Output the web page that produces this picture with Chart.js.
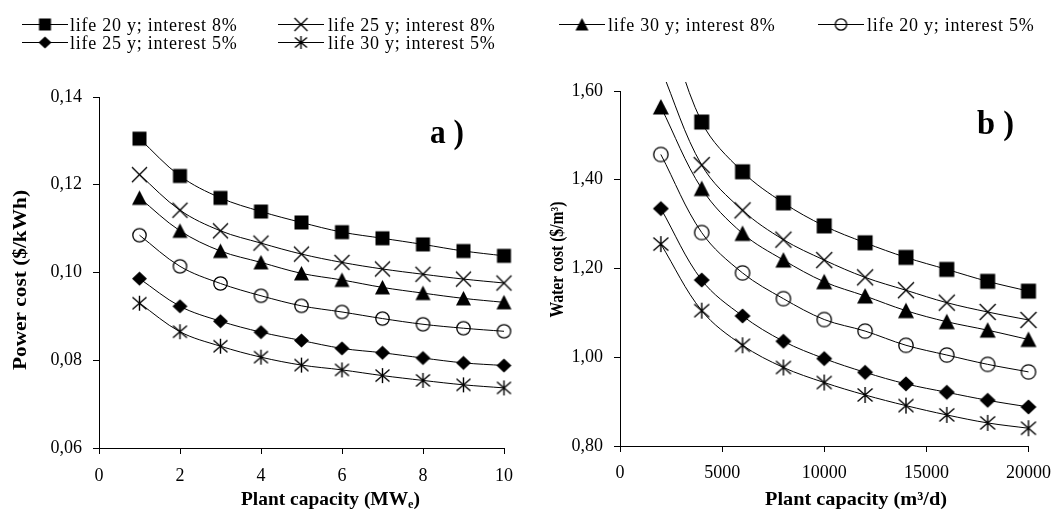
<!DOCTYPE html>
<html><head><meta charset="utf-8">
<script src="https://cdn.jsdelivr.net/npm/chart.js@4.4.0/dist/chart.umd.min.js"></script>
<style>
html,body{margin:0;padding:0;background:#fff;}
#wrap{position:relative;width:1061px;height:511px;overflow:hidden;background:#fff;}
canvas.c{position:absolute;top:0;}
.lg{position:absolute;font-family:"Liberation Serif",serif;font-size:18px;line-height:18px;letter-spacing:0.75px;color:#000;white-space:nowrap;}
canvas.lm{position:absolute;}
</style></head>
<body><div id="wrap">
<canvas id="cL" class="c" width="540" height="511" style="left:0;width:540px;height:511px"></canvas>
<canvas id="cR" class="c" width="521" height="511" style="left:540px;width:521px;height:511px"></canvas>
</div>
<script>
// ---------- data ----------
const seriesLabels = ['life 20 y; interest 8%','life 25 y; interest 8%','life 30 y; interest 8%','life 20 y; interest 5%','life 25 y; interest 5%','life 30 y; interest 5%'];
const seriesMarkers = ['square','cross','triangle','circle','diamond','star'];

const capacityMW = [1,2,3,4,5,6,7,8,9,10];
const power20y8 = [0.1305,0.1220,0.1170,0.1139,0.1114,0.1092,0.1078,0.1064,0.1049,0.1038];
const power25y8 = [0.1223,0.1142,0.1095,0.1067,0.1042,0.1023,0.1008,0.0996,0.0985,0.0976];
const power30y8 = [0.1170,0.1095,0.1049,0.1023,0.0998,0.0983,0.0966,0.0953,0.0941,0.0932];
const power20y5 = [0.1085,0.1014,0.0975,0.0947,0.0924,0.0910,0.0895,0.0882,0.0873,0.0866];
const power25y5 = [0.0986,0.0923,0.0889,0.0864,0.0845,0.0827,0.0817,0.0805,0.0794,0.0788];
const power30y5 = [0.0930,0.0865,0.0832,0.0807,0.0789,0.0778,0.0765,0.0754,0.0744,0.0737];

const capacityM3 = [2000,4000,6000,8000,10000,12000,14000,16000,18000,20000];
const water20y8 = [1.800,1.530,1.418,1.348,1.296,1.258,1.225,1.198,1.171,1.149];
const water25y8 = [1.650,1.433,1.331,1.265,1.219,1.180,1.151,1.123,1.102,1.084];
const water30y8 = [1.564,1.380,1.279,1.219,1.170,1.138,1.105,1.080,1.061,1.040];
const water20y5 = [1.457,1.281,1.190,1.132,1.085,1.059,1.027,1.005,0.984,0.967];
const water25y5 = [1.335,1.174,1.093,1.036,0.997,0.966,0.940,0.921,0.903,0.888];
const water30y5 = [1.255,1.105,1.027,0.977,0.943,0.915,0.891,0.870,0.852,0.840];

const powerTicksX = [0,2,4,6,8,10];
const powerTicksY = [0.06,0.08,0.10,0.12,0.14];
const waterTicksX = [0,5000,10000,15000,20000];
const waterTicksY = [0.80,1.00,1.20,1.40,1.60];

const titleA = {y:'Power cost ($/kWh)', x:'Plant capacity (MW', xSub:'e', xEnd:')', panel:'a )'};
const titleB = {y:'Water cost ($/m\u00B3)', x:'Plant capacity (m\u00B3/d)', panel:'b )'};

// ---------- markers ----------
function makeMarker(type, s){
  const pad = 2, n = s + pad*2;
  const c = document.createElement('canvas');
  c.width = n; c.height = n;
  const g = c.getContext('2d');
  const m = n/2, h = s/2;
  g.fillStyle = '#000'; g.strokeStyle = '#000'; g.lineWidth = 1.4;
  g.beginPath();
  switch(type){
    case 'square': g.fillRect(m-h+0.5, m-h+0.5, s-1, s-1); break;
    case 'cross': g.moveTo(m-h,m-h); g.lineTo(m+h,m+h); g.moveTo(m+h,m-h); g.lineTo(m-h,m+h); g.stroke(); break;
    case 'triangle': g.moveTo(m,m-h); g.lineTo(m+h,m+h-0.5); g.lineTo(m-h,m+h-0.5); g.closePath(); g.fill(); break;
    case 'circle': g.lineWidth = 1.3; g.arc(m,m,h-0.8,0,Math.PI*2); g.stroke(); break;
    case 'diamond': g.moveTo(m,m-h+0.5); g.lineTo(m+h,m); g.lineTo(m,m+h-0.5); g.lineTo(m-h,m); g.closePath(); g.fill(); break;
    case 'star': g.moveTo(m-h+0.5,m-h+1.5); g.lineTo(m+h-0.5,m+h-1.5); g.moveTo(m+h-0.5,m-h+1.5); g.lineTo(m-h+0.5,m+h-1.5); g.moveTo(m,m-h); g.lineTo(m,m+h); g.stroke(); break;
  }
  return c;
}

// ---------- helpers ----------
const FONT = '"Liberation Serif", "Times New Roman", serif';
function fitText(ctx, parts, x, y, targetW, rotate, anchor){
  ctx.save();
  let total = 0;
  parts.forEach(p => { ctx.font = p.font; p.w = ctx.measureText(p.t).width; total += p.w; });
  const sc = targetW ? targetW/total : 1;
  ctx.translate(x, y);
  if (rotate) ctx.rotate(-Math.PI/2);
  ctx.scale(sc, 1);
  let cx = anchor === 'center' ? -total/2 : 0;
  ctx.fillStyle = '#000'; ctx.textAlign = 'left'; ctx.textBaseline = 'alphabetic';
  parts.forEach(p => { ctx.font = p.font; ctx.fillText(p.t, cx, p.dy || 0); cx += p.w; });
  ctx.restore();
}
const fmt = v => v.toFixed(2).replace('.', ',');

function buildDatasets(xs, series, msize){
  return series.map((ys, i) => ({
    label: seriesLabels[i],
    data: xs.map((x, j) => ({x: x, y: ys[j]})),
    borderColor: '#000', backgroundColor: '#000', borderWidth: 1,
    pointStyle: makeMarker(seriesMarkers[i], msize), pointRadius: 8, pointHoverRadius: 8,
    tension: 0.35, fill: false
  }));
}

function axisOpts(min, max, tickVals, pad, fit, fmtFn){
  return {
    type: 'linear', min: min, max: max,
    afterBuildTicks: s => { s.ticks = tickVals.map(v => ({value: v})); },
    ticks: { color: '#000', font: {family: FONT, size: 18}, padding: pad, maxRotation: 0, autoSkip: false,
             callback: fmtFn },
    grid: { display: true, drawOnChartArea: false, drawTicks: true, tickLength: 6, color: '#000', lineWidth: 1 },
    border: { display: true, color: '#000', width: 1 },
    afterFit: fit
  };
}

// ---------- chart a ----------
new Chart(document.getElementById('cL'), {
  type: 'line',
  data: { datasets: buildDatasets(capacityMW, [power20y8,power25y8,power30y8,power20y5,power25y5,power30y5], 15) },
  options: {
    responsive: false, animation: false, devicePixelRatio: 1,
    layout: { padding: {left: 0, top: 97, right: 36, bottom: 23} },
    plugins: { legend: {display: false}, tooltip: {enabled: false} },
    datasets: { line: { clip: false } },
    scales: {
      x: axisOpts(0, 10, powerTicksX, 11, s => { s.height = 40; }, v => String(v)),
      y: axisOpts(0.06, 0.14, powerTicksY, 11, s => { s.width = 99; }, v => fmt(v))
    }
  },
  plugins: [{
    id: 'titlesA',
    afterDraw(chart){
      const ctx = chart.ctx;
      fitText(ctx, [{t: titleA.y, font: 'bold 18px ' + FONT}], 26, 280, 180, true, 'center');
      fitText(ctx, [{t: titleA.x, font: 'bold 19px ' + FONT}, {t: titleA.xSub, font: 'bold 12px ' + FONT, dy: 3}, {t: titleA.xEnd, font: 'bold 19px ' + FONT}], 241, 505, 179, false, 'left');
      fitText(ctx, [{t: titleA.panel, font: 'bold 33px ' + FONT}], 430, 143, 34, false, 'left');
    }
  }]
});

// ---------- chart b ----------
new Chart(document.getElementById('cR'), {
  type: 'line',
  data: { datasets: buildDatasets(capacityM3, [water20y8,water25y8,water30y8,water20y5,water25y5,water30y5], 16) },
  options: {
    responsive: false, animation: false, devicePixelRatio: 1,
    layout: { padding: {left: 0, top: 91, right: 25, bottom: 25} },
    plugins: { legend: {display: false}, tooltip: {enabled: false} },
    datasets: { line: { clip: {left: 20, top: 9, right: 20, bottom: 20} } },
    scales: {
      x: axisOpts(0, 20000, waterTicksX, 10, s => { s.height = 40; }, v => String(v)),
      y: axisOpts(0.8, 1.6, waterTicksY, 11, s => { s.width = 80; }, v => fmt(v))
    }
  },
  plugins: [{
    id: 'titlesB',
    afterDraw(chart){
      const ctx = chart.ctx;
      fitText(ctx, [{t: titleB.y, font: 'bold 18px ' + FONT}], 23, 259.5, 116, true, 'center');
      fitText(ctx, [{t: titleB.x, font: 'bold 19px ' + FONT}], 225, 505, 182, false, 'left');
      fitText(ctx, [{t: titleB.panel, font: 'bold 33px ' + FONT}], 437, 134, 37, false, 'left');
    }
  }]
});

// ---------- legend ----------
const legendPos = [
  {lx: 22, ly: 24, tx: 70}, {lx: 278, ly: 24, tx: 328}, {lx: 559, ly: 24, tx: 608},
  {lx: 818, ly: 24, tx: 867}, {lx: 22, ly: 42, tx: 70}, {lx: 278, ly: 42, tx: 328}
];
const wrap = document.getElementById('wrap');
legendPos.forEach((p, i) => {
  const c = document.createElement('canvas');
  c.className = 'lm'; c.width = 48; c.height = 18;
  c.style.left = p.lx + 'px'; c.style.top = (p.ly - 9) + 'px';
  const g = c.getContext('2d');
  g.strokeStyle = '#000'; g.lineWidth = 1;
  g.beginPath(); g.moveTo(0, 9.5); g.lineTo(46, 9.5); g.stroke();
  const mk = makeMarker(seriesMarkers[i], 13);
  g.drawImage(mk, 23 - mk.width/2, 9.5 - mk.height/2);
  wrap.appendChild(c);
  const d = document.createElement('div');
  d.className = 'lg'; d.textContent = seriesLabels[i];
  d.style.left = p.tx + 'px'; d.style.top = (p.ly - 8.5) + 'px';
  wrap.appendChild(d);
});
</script>
</body></html>
